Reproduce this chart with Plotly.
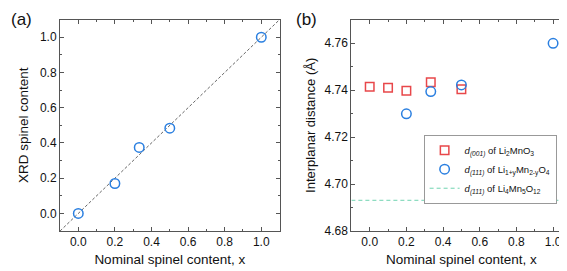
import plotly.graph_objects as go

# ---- Data ----
# Panel (a)
nominal_a = [0.0, 0.2, 0.333, 0.5, 1.0]
xrd_spinel = [0.0, 0.170, 0.375, 0.484, 1.0]
guide_range = [-0.1, 1.1]

# Panel (b)
nominal_li2mno3 = [0.0, 0.1, 0.2, 0.333, 0.5]
d001_li2mno3 = [4.7414, 4.7410, 4.7397, 4.7433, 4.7404]
nominal_spinel = [0.2, 0.333, 0.5, 1.0]
d111_spinel = [4.7299, 4.7394, 4.7422, 4.7599]
d111_li4mn5o12 = 4.6931

xticks = [0.0, 0.2, 0.4, 0.6, 0.8, 1.0]
yticks_a = [0.0, 0.2, 0.4, 0.6, 0.8, 1.0]
yticks_b = [4.68, 4.70, 4.72, 4.74, 4.76]

BLUE = "#2a7fe0"
RED = "#e8474a"
TEAL = "#6fd3b0"
AX = "#555555"
FONT = "Liberation Sans, Arial, sans-serif"

fig = go.Figure()

fig.add_trace(go.Scatter(x=guide_range, y=guide_range, mode="lines",
                         line=dict(color="#666666", width=1, dash="3px,2px"),
                         showlegend=False, xaxis="x", yaxis="y"))
fig.add_trace(go.Scatter(x=nominal_a, y=xrd_spinel, mode="markers",
                         marker=dict(symbol="circle-open", size=9.5, color=BLUE,
                                     line=dict(width=1.5, color=BLUE)),
                         showlegend=False, xaxis="x", yaxis="y"))

fig.add_trace(go.Scatter(x=nominal_li2mno3, y=d001_li2mno3, mode="markers",
                         name="<i>d</i><sub><i>(001)</i></sub> of Li<sub>2</sub>MnO<sub>3</sub>",
                         marker=dict(symbol="square-open", size=8.5, color=RED,
                                     line=dict(width=1.5, color=RED)),
                         xaxis="x2", yaxis="y2"))
fig.add_trace(go.Scatter(x=nominal_spinel, y=d111_spinel, mode="markers",
                         name="<i>d</i><sub><i>(111)</i></sub> of Li<sub>1+y</sub>Mn<sub>2-y</sub>O<sub>4</sub>",
                         marker=dict(symbol="circle-open", size=9.5, color=BLUE,
                                     line=dict(width=1.5, color=BLUE)),
                         xaxis="x2", yaxis="y2"))
fig.add_trace(go.Scatter(x=guide_range, y=[d111_li4mn5o12] * len(guide_range), mode="lines",
                         name="<i>d</i><sub><i>(111)</i></sub> of Li<sub>4</sub>Mn<sub>5</sub>O<sub>12</sub>",
                         line=dict(color=TEAL, width=1, dash="4px,3px"),
                         xaxis="x2", yaxis="y2"))

def axis_common(**kw):
    d = dict(showline=True, linecolor=AX, linewidth=1, mirror="ticks",
             ticks="inside", ticklen=4, tickcolor=AX, tickwidth=1,
             showgrid=False, zeroline=False,
             tickfont=dict(size=12, color="#111111", family=FONT),
             minor=dict(ticks="inside", ticklen=2, tickcolor=AX, showgrid=False))
    d.update(kw)
    return d

fig.update_layout(
    width=567, height=271,
    margin=dict(l=0, r=0, t=0, b=0),
    paper_bgcolor="white", plot_bgcolor="white",
    font=dict(family=FONT, color="#111111"),
    xaxis=axis_common(domain=[0.0917, 0.479], range=[-0.1, 1.1], tickvals=xticks,
                      ticktext=[f"{v:.1f}" for v in xticks], anchor="y",
                      title=dict(text="Nominal spinel content, x", font=dict(size=13.5), standoff=6),
                      minor_dtick=0.1, minor_tick0=0.1),
    yaxis=axis_common(domain=[0.155, 0.956], range=[-0.1, 1.1], tickvals=yticks_a,
                      ticktext=[f"{v:.1f}" for v in yticks_a], anchor="x",
                      title=dict(text="XRD spinel content", font=dict(size=13.5), standoff=8),
                      minor_dtick=0.1, minor_tick0=0.1),
    xaxis2=axis_common(domain=[0.6056, 0.9937], range=[-0.1, 1.1], tickvals=xticks,
                       ticktext=[f"{v:.1f}" for v in xticks], anchor="y2",
                       title=dict(text="Nominal spinel content, x", font=dict(size=13.5), standoff=6),
                       minor_dtick=0.1, minor_tick0=0.1),
    yaxis2=axis_common(domain=[0.155, 0.956], range=[4.68, 4.77], tickvals=yticks_b,
                       ticktext=[f"{v:.2f}" for v in yticks_b], anchor="x2",
                       title=dict(text="Interplanar distance (Å)", font=dict(size=13), standoff=6),
                       minor_dtick=0.01, minor_tick0=4.67),
    legend=dict(x=0.733, y=0.52, xanchor="left", yanchor="top",
                bgcolor="white", bordercolor="#999999", borderwidth=1,
                font=dict(size=9.5, family=FONT, color="#111111"),
                tracegroupgap=0, itemwidth=30),
    annotations=[
        dict(text="(a)", x=0.0, y=1.0, xref="paper", yref="paper", xanchor="left",
             yanchor="top", showarrow=False, font=dict(size=17, family=FONT, color="#111111"),
             xshift=1, yshift=0),
        dict(text="(b)", x=0.507, y=1.0, xref="paper", yref="paper", xanchor="left",
             yanchor="top", showarrow=False, font=dict(size=17, family=FONT, color="#111111"),
             xshift=-1, yshift=0),
    ],
)

fig.write_html("out.html")
